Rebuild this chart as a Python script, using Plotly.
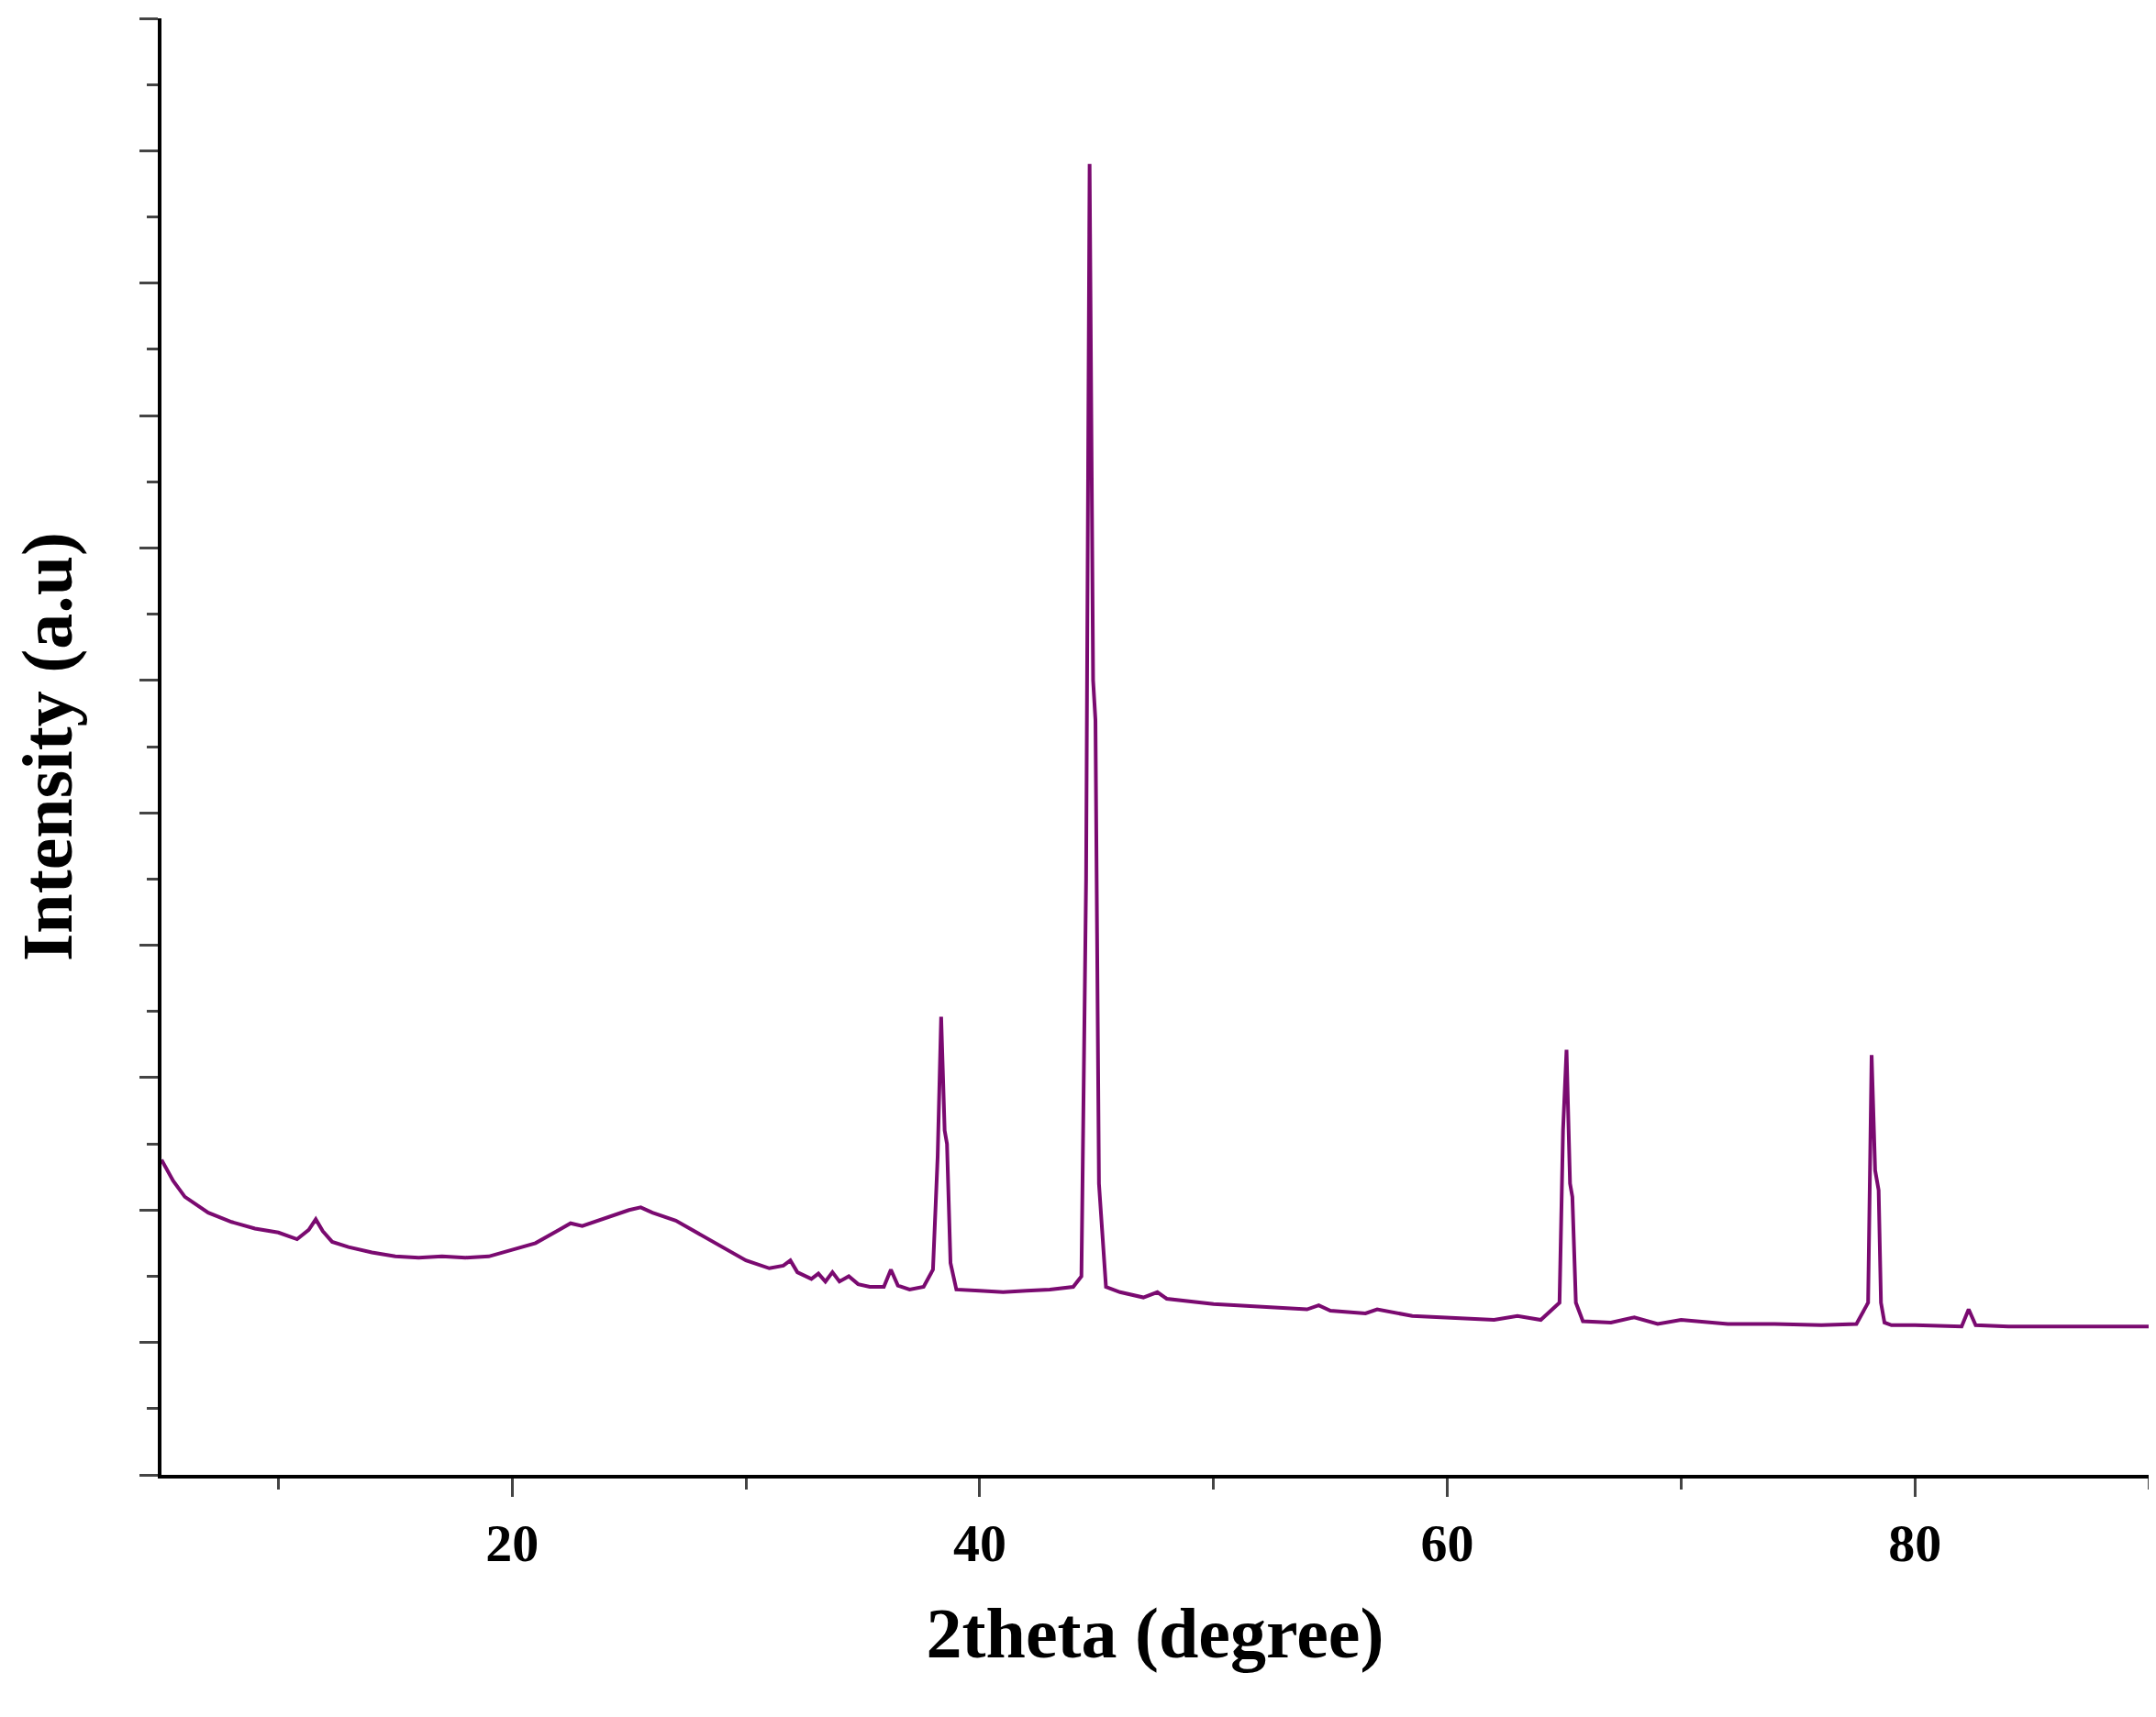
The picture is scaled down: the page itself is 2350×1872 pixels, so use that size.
import plotly.graph_objects as go

# XRD pattern (2theta in degree, intensity in a.u.)
two_theta = [
    5.0, 5.5, 6.0, 7.0, 8.0, 9.0, 10.0, 10.8, 11.3, 11.6, 11.9, 12.3, 13.0, 14.0,
    15.0, 16.0, 17.0, 18.0, 19.0, 20.0, 21.0, 22.0, 22.5, 23.0, 24.0, 25.0, 25.5,
    26.0, 27.0, 28.0, 29.0, 30.0, 31.0, 31.6, 31.9, 32.2, 32.8, 33.1, 33.4, 33.7,
    34.0, 34.4, 34.8, 35.3, 35.9, 36.2, 36.5, 37.0, 37.6, 38.0, 38.2, 38.35, 38.5,
    38.6, 38.75, 39.0, 40.0, 41.0, 42.0, 43.0, 44.0, 44.35, 44.55, 44.7, 44.85,
    44.95, 45.1, 45.4, 46.0, 47.0, 47.6, 48.0, 50.0, 52.0, 54.0, 54.5, 55.0, 56.5,
    57.0, 58.5, 60.0, 62.0, 63.0, 64.0, 64.8, 64.95, 65.1, 65.25, 65.35, 65.5, 65.8,
    67.0, 68.0, 69.0, 70.0, 72.0, 74.0, 76.0, 77.5, 78.0, 78.15, 78.3, 78.45, 78.55,
    78.7, 79.0, 80.0, 82.0, 82.3, 82.6, 84.0, 86.0, 88.0, 90.0,
]
intensity = [
    2.38, 2.22, 2.10, 1.98, 1.91, 1.86, 1.83, 1.78, 1.85, 1.93, 1.84, 1.76, 1.72, 1.68,
    1.65, 1.64, 1.65, 1.64, 1.65, 1.70, 1.75, 1.85, 1.90, 1.88, 1.94, 2.00, 2.02,
    1.98, 1.92, 1.82, 1.72, 1.62, 1.56, 1.58, 1.62, 1.53, 1.48, 1.52, 1.46, 1.53,
    1.46, 1.50, 1.44, 1.42, 1.42, 1.55, 1.43, 1.40, 1.42, 1.55, 2.40, 3.46, 2.60,
    2.50, 1.60, 1.40, 1.39, 1.38, 1.39, 1.40, 1.42, 1.50, 4.50, 9.90, 6.00,
    5.70, 2.20, 1.42, 1.38, 1.34, 1.38, 1.33, 1.29, 1.27, 1.25, 1.28, 1.24, 1.22,
    1.25, 1.20, 1.19, 1.17, 1.20, 1.17, 1.30, 2.60, 3.21, 2.20, 2.10, 1.30, 1.16,
    1.15, 1.19, 1.14, 1.17, 1.14, 1.14, 1.13, 1.14, 1.30, 3.17, 2.30, 2.15, 1.30,
    1.15, 1.13, 1.13, 1.12, 1.25, 1.13, 1.12, 1.12, 1.12, 1.12,
]

x_tick_values = [20, 40, 60, 80]

font_family = "Liberation Serif"

fig = go.Figure()
fig.add_trace(go.Scatter(
    x=two_theta, y=intensity, mode="lines",
    line=dict(color="#7a0a70", width=4),
    showlegend=False,
))

fig.update_layout(
    width=2350, height=1872,
    paper_bgcolor="white", plot_bgcolor="white",
    margin=dict(l=168, r=16, t=12, b=272),
    font=dict(family=font_family, color="black"),
)
fig.update_xaxes(
    range=[5, 90], tickvals=x_tick_values,
    ticks="outside", ticklen=20, tickwidth=3,
    minor=dict(tickvals=[10, 30, 50, 70, 90], ticks="outside", ticklen=12, tickwidth=3),
    showline=True, linecolor="black", linewidth=4, mirror=False,
    showgrid=False, zeroline=False,
    tickfont=dict(size=58, family=font_family, weight="bold"),
    title=dict(text="<b>2theta (degree)</b>", font=dict(size=78, family=font_family), standoff=40),
)
fig.update_yaxes(
    range=[0, 11], dtick=1, showticklabels=False,
    ticks="outside", ticklen=20, tickwidth=3,
    minor=dict(dtick=0.5, ticks="outside", ticklen=12, tickwidth=3),
    showline=True, linecolor="black", linewidth=4,
    showgrid=False, zeroline=False,
    title=dict(text="<b>Intensity (a.u)</b>", font=dict(size=78, family=font_family), standoff=50),
)

fig.write_html("out.html")
